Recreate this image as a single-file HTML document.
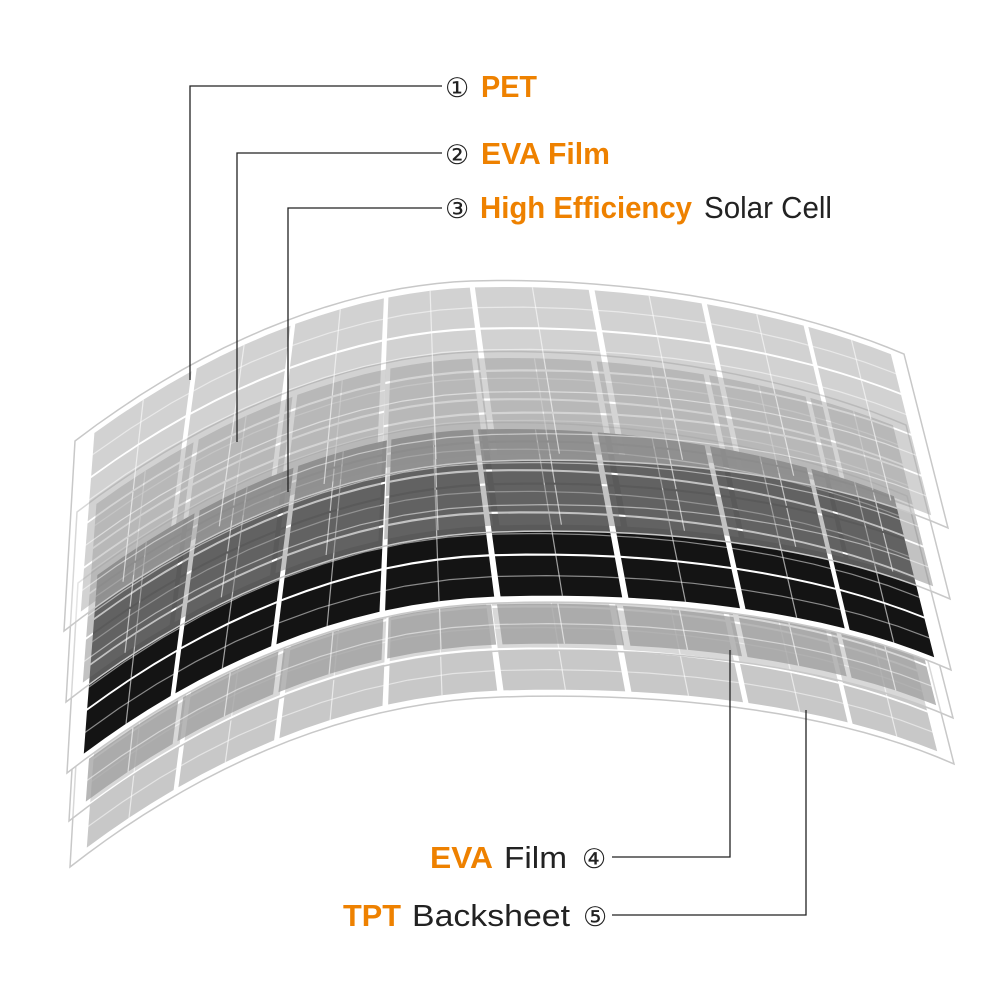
<!DOCTYPE html>
<html><head><meta charset="utf-8"><style>
html,body{margin:0;padding:0;background:#fff;width:1000px;height:1000px;overflow:hidden}
svg{display:block}
text{font-family:"Liberation Sans",Arial,sans-serif}
</style></head><body>
<svg id="s" width="1000" height="1000" viewBox="0 0 1000 1000" xmlns="http://www.w3.org/2000/svg">
<g id="panels"></g>
<g stroke="#222" stroke-width="1.3" fill="none">
<polyline points="190,380 190,86 442,86"/>
<polyline points="237,442 237,153 442,153"/>
<polyline points="288,492 288,208 442,208"/>
<polyline points="612,857 730,857 730,650"/>
<polyline points="612,915 806,915 806,710"/>
</g>
<g font-size="31">
<text x="445" y="97" fill="#222" font-size="27">①</text>
<text x="481" y="97" fill="#ee8100" font-weight="bold" textLength="56" lengthAdjust="spacingAndGlyphs">PET</text>
<text x="445" y="164" fill="#222" font-size="27">②</text>
<text x="481" y="164" fill="#ee8100" font-weight="bold" textLength="129" lengthAdjust="spacingAndGlyphs">EVA Film</text>
<text x="445" y="218" fill="#222" font-size="27">③</text>
<text x="480" y="218" fill="#ee8100" font-weight="bold" textLength="212" lengthAdjust="spacingAndGlyphs">High Efficiency</text>
<text x="704" y="218" fill="#222" textLength="128" lengthAdjust="spacingAndGlyphs">Solar Cell</text>
<text x="430" y="868" fill="#ee8100" font-weight="bold" textLength="63" lengthAdjust="spacingAndGlyphs">EVA</text>
<text x="504" y="868" fill="#222" textLength="63" lengthAdjust="spacingAndGlyphs">Film</text>
<text x="582" y="868" fill="#222" font-size="27">④</text>
<text x="343" y="926" fill="#ee8100" font-weight="bold" textLength="58" lengthAdjust="spacingAndGlyphs">TPT</text>
<text x="412" y="926" fill="#222" textLength="158" lengthAdjust="spacingAndGlyphs">Backsheet</text>
<text x="583" y="926" fill="#222" font-size="27">⑤</text>
</g>
</svg>
<script>
function cb(p0,p1,p2,p3,t){var u=1-t;return [u*u*u*p0[0]+3*u*u*t*p1[0]+3*u*t*t*p2[0]+t*t*t*p3[0],u*u*u*p0[1]+3*u*u*t*p1[1]+3*u*t*t*p2[1]+t*t*t*p3[1]];}
var TOP=[[75,441],[220,330],[360,285],[471,281],[640,276],[800,310],[904,354]];
var BOT=[[64,631],[180,540],[330,466],[495,461],[680,455],[840,480],[948,528]];
function pt(c,t){if(t<0.5)return cb(c[0],c[1],c[2],c[3],t*2);return cb(c[3],c[4],c[5],c[6],(t-0.5)*2);}
function P(t,s,dx,dy){var a=pt(TOP,t),b=pt(BOT,t);return [a[0]+(b[0]-a[0])*s+dx,a[1]+(b[1]-a[1])*s+dy];}
var layers=[
 {dx:6,dy:236,c:"#b0b0b0",o:0.7},
 {dx:5,dy:190,c:"#999",o:0.7},
 {dx:3,dy:142,c:"#141414",o:1},
 {dx:2,dy:71,c:"#6e6e6e",o:0.42},
 {dx:0,dy:0,c:"#8e8e8e",o:0.4}];
var out="";
function f(p){return p[0].toFixed(1)+","+p[1].toFixed(1);}
layers.forEach(function(L){
 var g='<g>';
 var pts=[];for(var i=0;i<=40;i++)pts.push(f(P(i/40,0,L.dx,L.dy)));
 for(var i=40;i>=0;i--)pts.push(f(P(i/40,1,L.dx,L.dy)));
 g+='<polygon points="'+pts.join(" ")+'" fill="#fff" fill-opacity="'+(L.o==1?1:0.3)+'" stroke="#c8c8c8" stroke-width="1.5"/>';
 var nc=8,nr=4,m=0.02,ms=0.03,gx=0.003,gy=0.006;
 for(var i=0;i<nc;i++)for(var j=0;j<nr;j++){
  var t0=m+(1-2*m)*i/nc+gx,t1=m+(1-2*m)*(i+1)/nc-gx;
  var s0=ms+(1-2*ms)*j/nr+gy,s1=ms+(1-2*ms)*(j+1)/nr-gy;
  var q=[];for(var k=0;k<=4;k++)q.push(f(P(t0+(t1-t0)*k/4,s0,L.dx,L.dy)));
  for(var k=4;k>=0;k--)q.push(f(P(t0+(t1-t0)*k/4,s1,L.dx,L.dy)));
  g+='<polygon points="'+q.join(" ")+'" fill="'+L.c+'" fill-opacity="'+L.o+'"/>';
  var tm=(t0+t1)/2;
  g+='<line x1="'+P(tm,s0,L.dx,L.dy)[0].toFixed(1)+'" y1="'+P(tm,s0,L.dx,L.dy)[1].toFixed(1)+'" x2="'+P(tm,s1,L.dx,L.dy)[0].toFixed(1)+'" y2="'+P(tm,s1,L.dx,L.dy)[1].toFixed(1)+'" stroke="#fff" stroke-opacity="0.6" stroke-width="1.2"/>';
 }
 for(var j=0;j<nr;j++){var sm=ms+(1-2*ms)*(j+0.5)/nr;var q=[];for(var k=0;k<=20;k++)q.push(f(P(m+(1-2*m)*k/20,sm,L.dx,L.dy)));
  g+='<polyline points="'+q.join(" ")+'" fill="none" stroke="#fff" stroke-opacity="0.5" stroke-width="1.2"/>';}
 g+='</g>';out+=g;
});
document.getElementById("panels").innerHTML=out;
</script>
</body></html>
